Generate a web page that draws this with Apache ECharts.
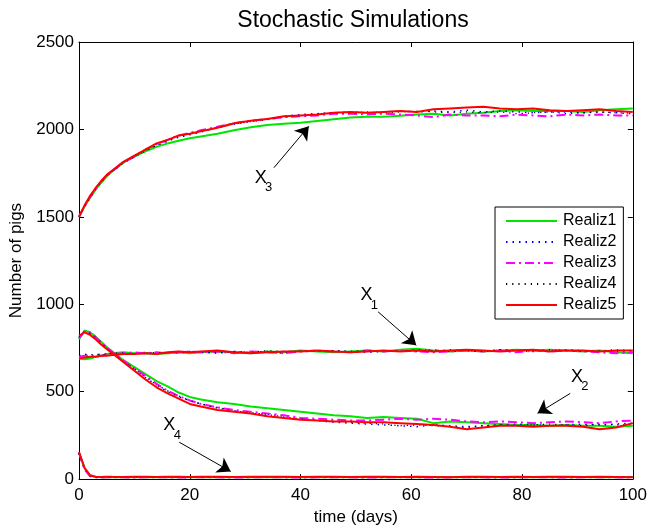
<!DOCTYPE html>
<html>
<head>
<meta charset="utf-8">
<script src="https://cdn.jsdelivr.net/npm/echarts@6/dist/echarts.min.js"></script>
<style>html,body{margin:0;padding:0;background:#fff}#c{width:650px;height:531px}</style>
</head>
<body>
<div id="c"></div>
<script>
// ---------------- data ----------------
const times = [0,1,2,3,4,5,6,8,10,12,14,16,18,20,22,25,28,31,34,37,40,43,46,49,52,55,58,61,64,67,70,73,76,79,82,85,88,91,94,97,100];
const realizNames = ['Realiz1','Realiz2','Realiz3','Realiz4','Realiz5'];
const xTicks = [0,20,40,60,80,100];
const yTicks = [0,500,1000,1500,2000,2500];

// X3 (top curves)
const X3_R1 = [1500,1560,1610,1655,1695,1730,1760,1810,1845,1875,1900,1920,1935,1950,1960,1975,1995,2012,2025,2032,2038,2048,2058,2068,2072,2073,2078,2085,2090,2080,2090,2095,2105,2110,2105,2105,2105,2100,2110,2115,2120];
const X3_R2 = [1500,1560,1615,1660,1700,1735,1760,1812,1845,1880,1910,1935,1955,1970,1985,2010,2030,2045,2060,2075,2085,2090,2095,2100,2095,2100,2105,2100,2105,2100,2110,2100,2105,2100,2095,2100,2100,2095,2100,2095,2090];
const X3_R3 = [1500,1562,1612,1660,1700,1738,1762,1810,1845,1885,1915,1940,1965,1980,1995,2015,2035,2050,2060,2070,2075,2080,2090,2090,2085,2090,2085,2080,2070,2085,2080,2080,2075,2085,2080,2075,2085,2080,2085,2080,2080];
const X3_R4 = [1500,1558,1610,1658,1698,1735,1760,1808,1842,1878,1908,1932,1958,1972,1990,2010,2030,2045,2055,2070,2080,2090,2095,2095,2100,2095,2100,2105,2100,2095,2100,2095,2100,2090,2095,2100,2090,2095,2100,2095,2095];
const X3_R5 = [1500,1565,1620,1665,1705,1740,1765,1815,1850,1885,1920,1940,1965,1975,1990,2010,2035,2050,2060,2075,2080,2085,2095,2100,2095,2100,2105,2100,2115,2120,2125,2130,2120,2115,2120,2110,2105,2110,2115,2105,2100];

// X1 (flat ~730)
const X1_R1 = [690,685,690,700,705,715,720,725,720,720,715,720,725,720,725,730,725,720,730,725,735,730,725,730,735,730,740,745,735,730,735,730,735,740,735,740,735,730,735,725,720];
const X1_R2 = [705,710,705,710,715,715,710,715,720,725,720,725,720,730,725,720,730,725,730,720,735,730,735,730,725,730,735,730,740,730,735,730,740,735,730,735,740,735,730,730,725];
const X1_R3 = [700,705,705,700,705,710,715,720,725,720,725,720,725,730,725,730,720,730,725,720,730,735,730,725,735,730,735,730,725,730,735,730,735,725,735,730,735,730,725,720,725];
const X1_R4 = [710,715,710,715,710,715,720,720,715,720,725,720,730,725,730,725,730,725,735,730,730,735,735,730,735,735,730,740,735,740,735,730,740,735,735,740,735,730,735,740,735];
const X1_R5 = [690,695,700,700,705,705,710,715,715,720,715,725,730,725,730,735,725,720,725,730,730,735,730,725,730,735,730,735,730,735,740,735,730,735,740,730,735,735,730,735,735];

// X2 (decaying from ~850 to ~310)
const X2_R1 = [800,850,840,815,785,755,730,680,640,600,560,530,495,470,455,440,430,415,405,395,385,375,365,360,350,355,350,345,320,330,325,320,315,310,310,305,310,305,305,300,305];
const X2_R2 = [810,845,835,810,780,750,725,675,630,580,540,505,475,450,430,410,390,375,370,360,345,335,325,320,315,310,305,300,310,305,300,305,310,315,310,305,310,315,310,315,320];
const X2_R3 = [805,845,838,812,782,752,728,678,635,590,545,505,475,450,430,410,395,385,375,365,350,345,340,335,335,340,345,340,345,340,330,325,330,325,320,325,330,325,320,330,335];
const X2_R4 = [812,842,832,808,778,748,722,672,628,582,538,500,470,448,430,405,390,380,370,355,345,335,330,325,320,315,305,310,305,300,295,305,310,305,310,315,310,305,315,310,315];
const X2_R5 = [820,840,825,800,770,745,720,670,620,570,525,490,460,430,415,395,385,375,360,350,340,335,330,330,325,325,320,315,310,300,285,295,305,305,300,305,305,300,285,295,320];

// X4 (fast decay to ~10)
const X4_R1 = [150,62,20,12,11,10,12,11,10,12,11,10,12,11,12,10,11,12,10,11,12,11,10,12,11,10,12,11,10,11,12,10,11,12,11,10,12,11,10,11,12];
const X4_R2 = [148,58,18,11,10,11,10,12,11,10,11,12,10,11,10,12,11,10,11,12,10,11,12,10,11,12,10,11,12,10,11,10,12,11,10,11,10,12,11,10,11];
const X4_R3 = [152,55,16,10,9,10,11,10,9,10,11,10,9,10,11,10,9,10,11,10,9,10,11,10,9,10,11,10,9,10,11,10,9,10,11,10,9,10,11,10,9];
const X4_R4 = [145,60,19,12,11,12,11,12,13,12,11,12,13,12,11,12,13,12,11,12,13,12,11,12,13,12,11,12,13,12,11,12,13,12,11,12,13,12,11,12,13];
const X4_R5 = [155,65,22,13,12,14,13,12,14,13,12,13,14,12,13,14,12,13,14,13,12,14,13,12,13,14,12,13,12,11,13,14,12,13,12,14,13,12,13,12,11];

// annotations: label position, arrow start, arrow tip (data coordinates)
const annotLabels = ['X','X','X','X'];
const annotSubs = ['3','1','2','4'];
const annotTextPos = [[32.8,1724],[51.9,1050],[89.9,585],[16.3,309]];
const annotArrowFrom = [[35.2,1781],[54.0,957],[88.7,490],[18.1,211]];
const annotArrowTo = [[41.5,2018],[60.9,765],[82.8,376],[27.4,44]];

// ---------------- chart ----------------
const seriesByRealiz = [
  [X1_R1,X2_R1,X3_R1,X4_R1],
  [X1_R2,X2_R2,X3_R2,X4_R2],
  [X1_R3,X2_R3,X3_R3,X4_R3],
  [X1_R4,X2_R4,X3_R4,X4_R4],
  [X1_R5,X2_R5,X3_R5,X4_R5]
];
const styles = [
  {color:'#00e600', width:2, type:'solid'},
  {color:'#0000ff', width:1.5, type:[1.5,5]},
  {color:'#ff00ff', width:2, type:[9,4,2,4]},
  {color:'#000000', width:1.2, type:[1.2,5]},
  {color:'#ff0000', width:2, type:'solid'}
];
const FONT = 'Liberation Sans, Arial, Helvetica, sans-serif';

const series = [];
seriesByRealiz.forEach((vars, r) => {
  vars.forEach((arr) => {
    series.push({
      type:'line', name: realizNames[r],
      data: times.map((t,i)=>[t, arr[i]]),
      symbol:'none', showSymbol:false, silent:true, animation:false,
      color: styles[r].color,
      lineStyle:{color:styles[r].color, width:styles[r].width, type:styles[r].type},
      z: 2 + r
    });
  });
});
// arrows
series[0].markLine = {
  silent:true, animation:false,
  symbol:['none','arrow'], symbolSize:13,
  label:{show:false},
  lineStyle:{color:'#000', width:1, type:'solid'},
  itemStyle:{color:'#000'},
  emphasis:{disabled:true},
  data: annotArrowFrom.map((f,i)=>[{coord:f},{coord:annotArrowTo[i]}])
};

const axisCommon = {
  axisLine:{show:true, onZero:false, lineStyle:{color:'#000', width:1}},
  axisTick:{show:true, inside:true, length:5, lineStyle:{color:'#000'}},
  splitLine:{show:false}
};

const chart = echarts.init(document.getElementById('c'), null, {renderer:'canvas'});
chart.setOption({
  backgroundColor:'#fff',
  animation:false,
  title:{text:'Stochastic Simulations', left:348, top:4, textAlign:'center',
    textStyle:{fontFamily:FONT, fontSize:23, fontWeight:'normal', color:'#000'}},
  legend:{
    data: realizNames, orient:'vertical', left:495, top:207,
    backgroundColor:'#fff', borderColor:'#000', borderWidth:1, borderRadius:0,
    padding:[6,7,6,10], itemGap:5, itemWidth:51, itemHeight:14,
    selectedMode:false,
    itemStyle:{opacity:0},
    textStyle:{fontFamily:FONT, fontSize:16, color:'#000', padding:[0,0,0,1]}
  },
  grid:{left:79, right:14, top:42, bottom:50, containLabel:false},
  xAxis:[
    Object.assign({type:'value', min:0, max:100, interval:20, position:'bottom',
      name:'time (days)', nameLocation:'middle', nameGap:28,
      nameTextStyle:{fontFamily:FONT, fontSize:17, color:'#000'},
      axisLabel:{fontFamily:FONT, fontSize:17, color:'#000', margin:8,
        formatter:(v)=> xTicks.includes(v) ? String(v) : ''}}, axisCommon),
    Object.assign({type:'value', min:0, max:100, interval:20, position:'top',
      axisLabel:{show:false}}, axisCommon)
  ],
  yAxis:[
    Object.assign({type:'value', min:0, max:2500, interval:500, position:'left',
      name:'Number of pigs', nameLocation:'middle', nameGap:53,
      nameTextStyle:{fontFamily:FONT, fontSize:17, color:'#000'},
      axisLabel:{fontFamily:FONT, fontSize:17, color:'#000', margin:5,
        formatter:(v)=> yTicks.includes(v) ? String(v) : ''}}, axisCommon),
    Object.assign({type:'value', min:0, max:2500, interval:500, position:'right',
      axisLabel:{show:false}}, axisCommon)
  ],
  series: series
});

// annotation labels positioned via the chart's own scales
const graphics = [];
annotTextPos.forEach((p,i)=>{
  const px = chart.convertToPixel({xAxisIndex:0, yAxisIndex:0}, p);
  graphics.push({type:'text', x:px[0], y:px[1], z:100, silent:true,
    style:{text:annotLabels[i], font:'18px '+FONT, fill:'#000', textAlign:'center', textVerticalAlign:'middle'}});
  graphics.push({type:'text', x:px[0]+8, y:px[1]+10, z:100, silent:true,
    style:{text:annotSubs[i], font:'13px '+FONT, fill:'#000', textAlign:'center', textVerticalAlign:'middle'}});
});
chart.setOption({graphic:graphics});
</script>
</body>
</html>
